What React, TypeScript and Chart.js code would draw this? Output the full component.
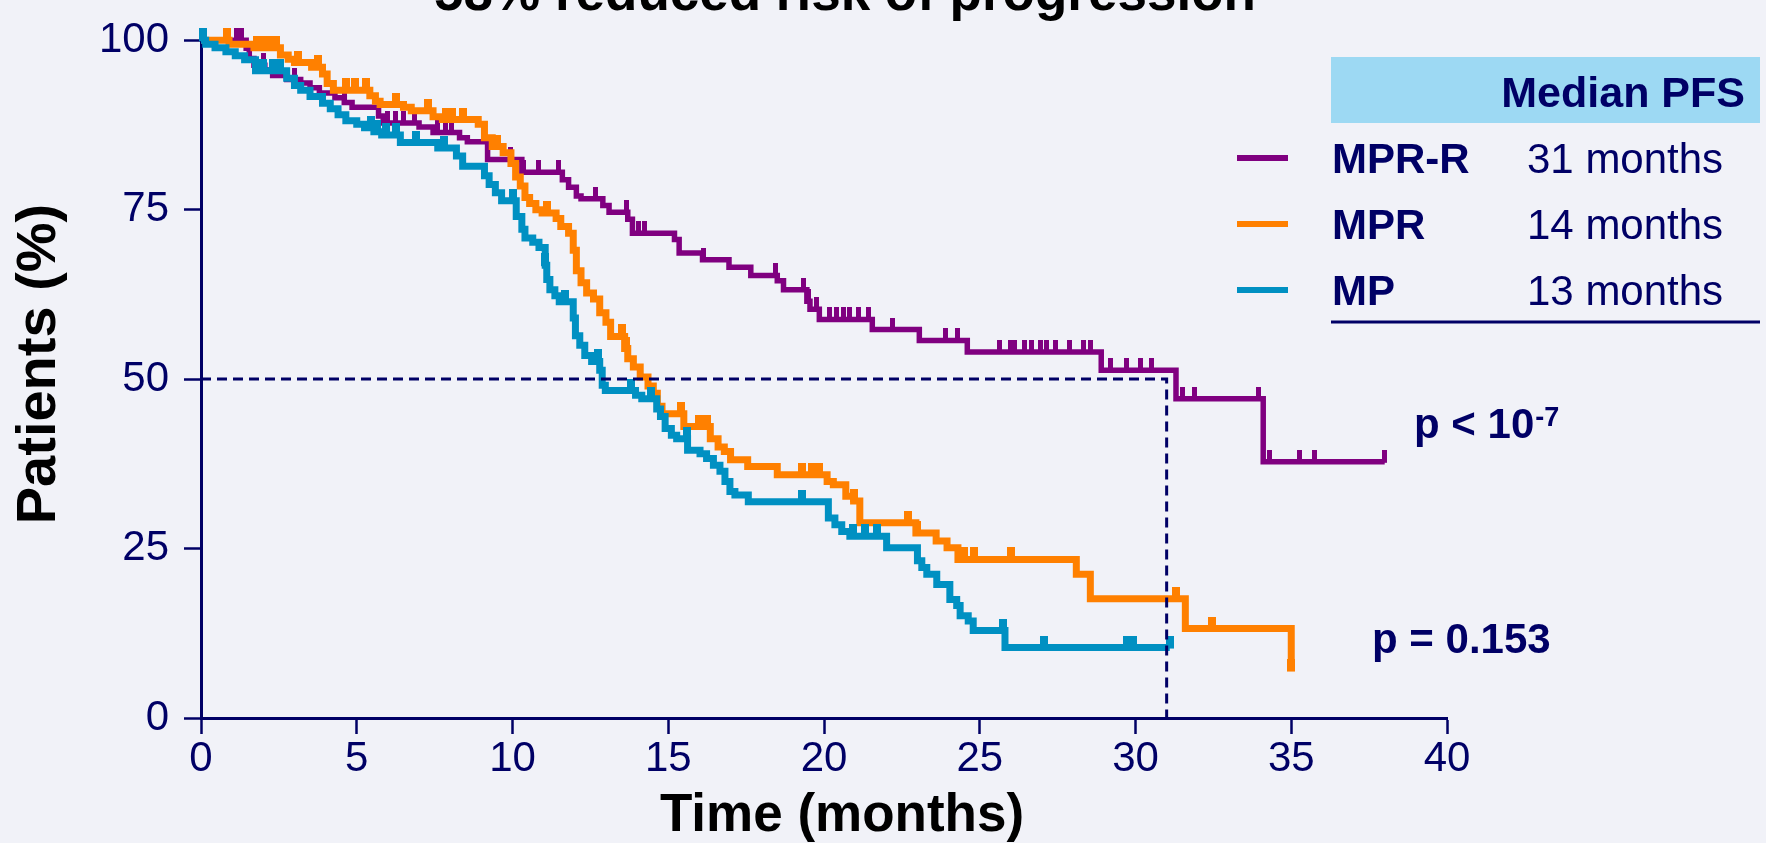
import React, { useEffect, useRef } from "react";
import { Chart, registerables } from "chart.js";

Chart.register(...registerables);

// ---------------- data ----------------
const chartTitle = "58% reduced risk of progression";
const xAxisTitle = "Time (months)";
const yAxisTitle = "Patients (%)";
const xTickValues = [0, 5, 10, 15, 20, 25, 30, 35, 40];
const yTickValues = [0, 25, 50, 75, 100];
const armNames = ["MPR-R", "MPR", "MP"];
const medianPFS = ["31 months", "14 months", "13 months"];
const legendHeader = "Median PFS";
const pValueTop = "p < 10";
const pValueTopExp = "-7";
const pValueBottom = "p = 0.153";
const medianGuide: [number, number][] = [[0, 50], [31, 50], [31, 0]];

// Kaplan-Meier steps: [month, % patients progression-free after that month]
const mprrSteps: [number, number][] = [
  [0, 100], [1.45, 98.8], [1.55, 97.3], [1.7, 96.3], [2.05, 95.6], [2.3, 94.8], [2.75, 94.2],
  [3.2, 93.7], [3.5, 93.0], [3.8, 92.2], [4.3, 91.5], [4.6, 90.8], [4.85, 90.1], [5.7, 88.8],
  [5.85, 87.8], [7.0, 87.2], [7.45, 86.4], [8.3, 85.6], [8.55, 85.0], [9.2, 82.4], [10.3, 80.5],
  [11.6, 79.4], [11.8, 78.3], [12.05, 77.0], [12.2, 76.6], [12.9, 75.6], [13.1, 74.6], [13.7, 73.6],
  [13.85, 71.5], [15.2, 70.6], [15.35, 68.6], [16.1, 67.6], [16.95, 66.5], [17.65, 65.3],
  [18.5, 64.5], [18.7, 63.2], [19.45, 61.5], [19.55, 60.3], [19.85, 58.8], [21.55, 57.3],
  [23.06, 55.7], [24.6, 54.0], [28.9, 51.3], [31.3, 47.1], [34.1, 37.8], [38.0, 37.8],
];
const mprSteps: [number, number][] = [
  [0, 100], [0.9, 99.4], [1.7, 98.9], [2.55, 97.8], [2.8, 97.2], [3.0, 96.7], [3.55, 96.0],
  [3.9, 95.0], [4.05, 93.6], [4.25, 92.6], [5.42, 91.8], [5.6, 91.0], [5.75, 90.5], [6.5, 90.1],
  [6.75, 89.6], [7.45, 88.7], [7.75, 88.3], [8.9, 87.6], [9.1, 85.6], [9.35, 84.3], [9.7, 83.4],
  [9.95, 81.8], [10.1, 79.8], [10.25, 78.5], [10.4, 76.8], [10.55, 75.9], [10.75, 75.0],
  [10.95, 74.5], [11.4, 73.7], [11.55, 72.5], [11.8, 71.5], [11.95, 69.0], [12.05, 66.0],
  [12.2, 64.2], [12.38, 62.7], [12.6, 61.8], [12.8, 59.8], [13.0, 58.4], [13.15, 56.3],
  [13.6, 54.5], [13.7, 53.0], [13.88, 51.8], [14.1, 50.3], [14.35, 49.0], [14.52, 47.9],
  [14.65, 46.0], [14.8, 44.9], [15.5, 43.0], [16.35, 41.2], [16.6, 40.0], [16.8, 39.3],
  [17.0, 38.1], [17.55, 37.1], [18.5, 35.9], [20.1, 34.9], [20.3, 34.4], [20.7, 32.7],
  [20.95, 32.0], [21.15, 28.8], [22.95, 27.3], [23.6, 26.1], [23.95, 25.1], [24.3, 23.4],
  [28.1, 21.2], [28.55, 17.6], [31.6, 13.2], [35.0, 7.0],
];
const mpSteps: [number, number][] = [
  [0, 100], [0.15, 99.4], [0.45, 98.9], [0.8, 98.3], [1.1, 97.7], [1.4, 97.1], [1.75, 95.5],
  [2.75, 94.4], [3.0, 93.3], [3.2, 92.6], [3.5, 91.7], [3.9, 90.7], [4.15, 89.9], [4.4, 89.0],
  [4.65, 88.1], [5.0, 87.6], [5.25, 87.1], [5.55, 86.5], [5.8, 86.0], [6.4, 84.9], [7.6, 84.1],
  [8.2, 82.9], [8.4, 81.4], [9.1, 80.0], [9.25, 78.7], [9.45, 77.5], [9.65, 76.3], [10.12, 74.0],
  [10.3, 72.1], [10.4, 70.8], [10.65, 70.2], [10.85, 69.4], [11.05, 66.8], [11.1, 64.7],
  [11.2, 63.2], [11.36, 62.3], [11.5, 61.4], [11.95, 59.0], [12.02, 56.4], [12.16, 55.0],
  [12.32, 53.5], [12.54, 52.6], [12.8, 51.3], [12.88, 49.1], [12.98, 48.3], [13.95, 47.6],
  [14.15, 47.1], [14.63, 45.6], [14.75, 44.5], [14.9, 42.7], [15.1, 41.7], [15.27, 41.2],
  [15.62, 39.5], [16.02, 39.0], [16.23, 38.3], [16.45, 37.3], [16.66, 36.4], [16.82, 34.9],
  [16.98, 33.4], [17.14, 32.9], [17.57, 31.9], [20.14, 29.5], [20.35, 28.5], [20.57, 27.5],
  [20.83, 26.8], [22.01, 25.1], [23.0, 23.2], [23.14, 22.2], [23.3, 21.2], [23.62, 19.7],
  [24.04, 17.5], [24.26, 16.6], [24.37, 15.1], [24.63, 14.3], [24.79, 12.9], [25.81, 10.4],
  [31.1, 10.4],
];

// censored observations (months)
const mprrCensored = [
  0.85, 1.15, 1.3, 2.0, 3.0, 4.6, 6.0, 6.25, 6.5, 6.85, 7.6, 7.85, 8.05, 9.95, 10.36, 10.83,
  11.47, 12.65, 13.67, 14.05, 14.25, 16.13, 18.43, 19.35, 19.5, 19.75, 20.19, 20.4, 20.62, 20.83,
  21.1, 21.42, 22.2, 23.9, 24.3, 25.64, 25.98, 26.1, 26.44, 26.67, 26.96, 27.13, 27.42, 27.87,
  28.33, 28.56, 29.2, 29.71, 30.16, 30.51, 31.5, 31.9, 33.95, 34.3, 35.25, 35.76, 38.0,
];
const mprCensored = [
  0.85, 1.8, 2.0, 2.2, 2.4, 3.1, 3.75, 4.65, 4.95, 5.3, 6.25, 7.3, 7.85, 8.05, 8.4, 9.5, 11.1,
  13.5, 13.65, 15.4, 16.0, 16.25, 19.3, 19.6, 19.85, 20.95, 22.7, 23.0, 24.5, 24.8, 26.0, 31.3,
  32.45, 35.0,
];
const mpCensored = [
  0.05, 2.0, 2.3, 2.55, 5.45, 5.65, 5.95, 6.25, 6.9, 7.8, 10.0, 11.05, 11.7, 12.75, 13.8, 14.45,
  15.6, 19.3, 20.94, 21.32, 21.7, 25.76, 27.05, 29.72, 29.93, 31.1,
];

// ---------------- styles ----------------
const FONT = "'Liberation Sans', Arial, Helvetica, sans-serif";
const NAVY = "#000066";
const PURPLE = "#800080";
const ORANGE = "#FF8000";
const BLUE = "#0090C2";
const BG = "#F1F2F8";
const HEADER_BG = "#9DD9F3";
const armColors = [PURPLE, ORANGE, BLUE];

function survivalAt(steps: [number, number][], t: number): number {
  let v = steps[0][1];
  for (const [x, y] of steps) {
    if (x <= t) v = y;
    else break;
  }
  return v;
}

function makeTick(color: string, w: number, up: number): HTMLCanvasElement {
  const c = document.createElement("canvas");
  c.width = Math.ceil(w);
  c.height = up * 2;
  const g = c.getContext("2d")!;
  g.fillStyle = color;
  g.fillRect(0, 0, c.width, up + 1);
  return c;
}

const overlayPlugin = {
  id: "overlay",
  beforeDraw(chart: any) {
    const { ctx, width, height } = chart;
    ctx.save();
    ctx.fillStyle = BG;
    ctx.fillRect(0, 0, width, height);
    ctx.restore();
  },
  afterDraw(chart: any) {
    const ctx: CanvasRenderingContext2D = chart.ctx;
    ctx.save();
    // title (cut off at top)
    ctx.fillStyle = "#000000";
    ctx.font = `bold 53px ${FONT}`;
    ctx.textAlign = "center";
    ctx.textBaseline = "alphabetic";
    ctx.fillText(chartTitle, 845, 10);

    // axis titles
    ctx.font = `bold 53px ${FONT}`;
    ctx.fillText(xAxisTitle, 842, 831);
    ctx.save();
    ctx.translate(55, 364);
    ctx.rotate(-Math.PI / 2);
    ctx.font = `bold 56px ${FONT}`;
    ctx.fillText(yAxisTitle, 0, 0);
    ctx.restore();

    // legend table
    ctx.fillStyle = HEADER_BG;
    ctx.fillRect(1331, 57, 429, 66);
    ctx.fillStyle = NAVY;
    ctx.font = `bold 43px ${FONT}`;
    ctx.textAlign = "right";
    ctx.fillText(legendHeader, 1745, 107);
    const baselines = [173, 239, 305];
    armNames.forEach((name, i) => {
      const b = baselines[i];
      ctx.strokeStyle = armColors[i];
      ctx.lineWidth = 6;
      ctx.beginPath();
      ctx.moveTo(1237, b - 15);
      ctx.lineTo(1288, b - 15);
      ctx.stroke();
      ctx.fillStyle = NAVY;
      ctx.textAlign = "left";
      ctx.font = `bold 42px ${FONT}`;
      ctx.fillText(name, 1332, b);
      ctx.font = `42px ${FONT}`;
      ctx.fillText(medianPFS[i], 1527, b);
    });
    ctx.strokeStyle = NAVY;
    ctx.lineWidth = 3;
    ctx.beginPath();
    ctx.moveTo(1331, 322);
    ctx.lineTo(1760, 322);
    ctx.stroke();

    // p-values
    ctx.fillStyle = NAVY;
    ctx.textAlign = "left";
    ctx.font = `bold 42px ${FONT}`;
    ctx.fillText(pValueTop, 1414, 438);
    const w = ctx.measureText(pValueTop).width;
    ctx.font = `bold 27px ${FONT}`;
    ctx.fillText(pValueTopExp, 1414 + w + 1, 426);
    ctx.font = `bold 42px ${FONT}`;
    ctx.fillText(pValueBottom, 1372, 653);
    ctx.restore();
  },
};

export default function App() {
  const ref = useRef<HTMLCanvasElement | null>(null);

  useEffect(() => {
    if (!ref.current) return;
    const toXY = (s: [number, number][]) => s.map(([x, y]) => ({ x, y }));
    const censorXY = (steps: [number, number][], times: number[]) =>
      times.map((t) => ({ x: t, y: survivalAt(steps, t) }));

    const curve = (label: string, steps: [number, number][], color: string, width: number, order: number) => ({
      type: "line" as const,
      label,
      data: toXY(steps),
      borderColor: color,
      borderWidth: width,
      stepped: "before" as const,
      pointRadius: 0,
      fill: false,
      clip: false as any,
      order,
    });
    const censors = (label: string, steps: [number, number][], times: number[], color: string, w: number, order: number) => ({
      type: "scatter" as const,
      label,
      data: censorXY(steps, times),
      showLine: false,
      pointStyle: makeTick(color, w, 12),
      pointRadius: 3,
      clip: false as any,
      order,
    });

    const chart = new Chart(ref.current, {
      type: "line",
      data: {
        datasets: [
          {
            type: "line",
            label: "median",
            data: toXY(medianGuide),
            borderColor: NAVY,
            borderWidth: 3,
            borderDash: [10, 6],
            pointRadius: 0,
            fill: false,
            clip: false as any,
            order: 0,
          },
          curve(armNames[2], mpSteps, BLUE, 7, 1),
          censors(armNames[2] + " censored", mpSteps, mpCensored, BLUE, 8, 1),
          curve(armNames[1], mprSteps, ORANGE, 7, 2),
          censors(armNames[1] + " censored", mprSteps, mprCensored, ORANGE, 8, 2),
          curve(armNames[0], mprrSteps, PURPLE, 5.5, 3),
          censors(armNames[0] + " censored", mprrSteps, mprrCensored, PURPLE, 5, 3),
        ] as any,
      },
      options: {
        responsive: false,
        maintainAspectRatio: false,
        animation: false,
        events: [],
        layout: { padding: { left: 0, right: 319, top: 36, bottom: 0 } },
        plugins: {
          legend: { display: false },
          tooltip: { enabled: false },
          title: { display: false },
        },
        scales: {
          x: {
            type: "linear",
            min: 0,
            max: 40,
            afterBuildTicks: (s: any) => {
              s.ticks = xTickValues.map((v) => ({ value: v }));
            },
            afterFit: (s: any) => {
              s.height = 125;
            },
            grid: { drawOnChartArea: false, drawTicks: true, tickLength: 16, tickColor: NAVY, tickWidth: 2.5 },
            border: { display: true, color: NAVY, width: 3 },
            ticks: {
              color: NAVY,
              font: { family: FONT, size: 42 },
              padding: 0,
              maxRotation: 0,
              autoSkip: false,
            },
          },
          y: {
            type: "linear",
            min: 0,
            max: 100,
            afterBuildTicks: (s: any) => {
              s.ticks = yTickValues.map((v) => ({ value: v }));
            },
            afterFit: (s: any) => {
              s.width = 201;
            },
            grid: { drawOnChartArea: false, drawTicks: true, tickLength: 17, tickColor: NAVY, tickWidth: 2.5 },
            border: { display: true, color: NAVY, width: 3 },
            ticks: {
              color: NAVY,
              font: { family: FONT, size: 42 },
              padding: 15,
              autoSkip: false,
            },
          },
        },
      } as any,
      plugins: [overlayPlugin],
    });
    return () => chart.destroy();
  }, []);

  return (
    <div style={{ position: "absolute", left: 0, top: 0, width: 1766, height: 843, background: BG }}>
      <canvas ref={ref} width={1766} height={843} style={{ width: 1766, height: 843, display: "block" }} />
    </div>
  );
}
